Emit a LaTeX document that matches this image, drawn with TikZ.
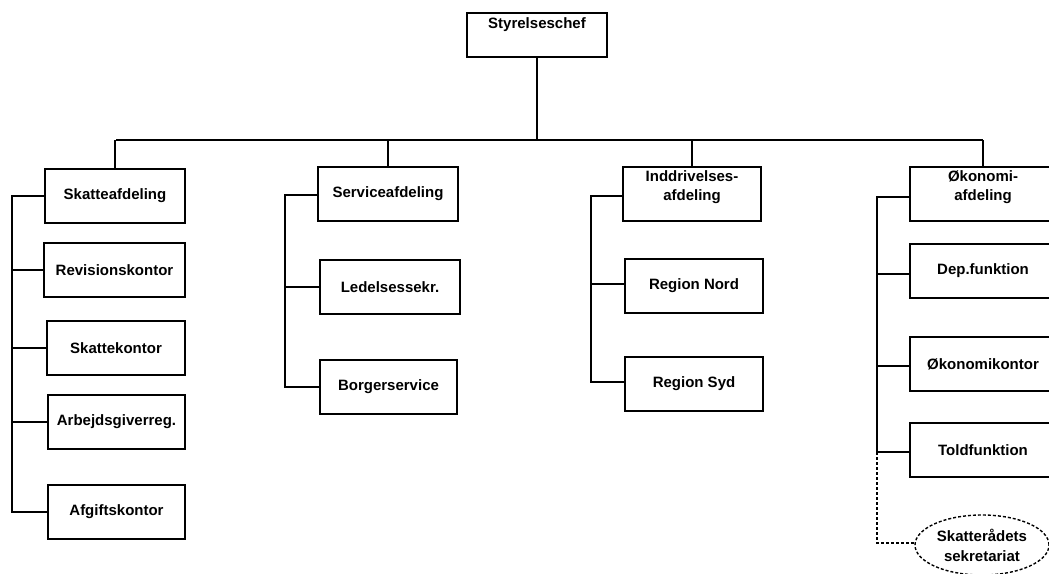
\documentclass[tikz,border=0pt]{standalone}
\usepackage{fontspec}
\setmainfont{Liberation Sans}
\usetikzlibrary{shapes.geometric}
\begin{document}
\begin{tikzpicture}[x=1pt,y=-1pt,
  box/.style={draw,line width=1.8pt,rectangle,minimum width=#1,minimum height=54pt,inner sep=0pt,
    font=\fontsize{15}{18.5}\selectfont\bfseries,align=center},
  box/.default=140pt,
  txt/.style={font=\fontsize{15}{18.5}\selectfont\bfseries,align=center,inner sep=0pt},
  conn/.style={line width=2pt},
  dconn/.style={line width=1.4pt,dash pattern=on 3pt off 2pt}]
\useasboundingbox (0,0) rectangle (1049,573);
% top
\node[box=140pt,minimum height=44pt] (top) at (537,35) {};
\node[txt] (toptxt) at (537,25) {Styrelseschef};
\coordinate (busL) at (116,140);
\coordinate (busR) at (983,140);
% column 1
\node[box=140pt] (skat) at (115,196) {Skatteafdeling};
\node[box=141pt] (rev) at (114.5,270) {Revisionskontor};
\node[box=138pt] (skk) at (116,348) {Skattekontor};
\node[box=137pt] (arb) at (116.5,422) {Arbejdsgiverreg.};
\node[box=137pt] (afg) at (116.5,512) {Afgiftskontor};
\coordinate (s1) at (12,0);
% column 2
\node[box=140pt] (serv) at (388,194) {Serviceafdeling};
\node[box=140pt] (led) at (390,287) {Ledelsessekr.};
\node[box=137pt] (borg) at (388.5,387) {Borgerservice};
\coordinate (s2) at (285,0);
% column 3
\node[box=138pt] (indd) at (692,194) {};
\node[txt] (inddtxt) at (692,187) {Inddrivelses-\\afdeling};
\node[box=138pt] (nord) at (694,286) {Region Nord};
\node[box=138pt] (syd) at (694,384) {Region Syd};
\coordinate (s3) at (591,0);
% column 4
\node[box=146pt] (oko) at (983,194) {};
\node[txt] (okotxt) at (983,187) {Økonomi-\\afdeling};
\node[box=146pt] (dep) at (983,271) {Dep.funktion};
\node[box=146pt] (okk) at (983,364) {Økonomikontor};
\node[box=146pt] (told) at (983,450) {Toldfunktion};
\node[draw,ellipse,dash pattern=on 3pt off 2pt,line width=1.4pt,minimum width=134pt,minimum height=60pt,
  inner sep=0pt,font=\fontsize{15}{20}\selectfont\bfseries,align=center] (ell) at (982,545) {Skatterådets\\sekretariat};
\coordinate (s4) at (877,0);
% bus
\draw[conn] (busL) -- (busR);
\draw[conn] (top.south) -- (top.south |- busL);
\draw[conn] (skat.north) -- (skat.north |- busL);
\draw[conn] (serv.north) -- (serv.north |- busL);
\draw[conn] (indd.north) -- (indd.north |- busL);
\draw[conn] (oko.north) -- (oko.north |- busL);
% col 1 spine
\draw[conn] (skat.west) -- (skat.west -| s1) -- (afg.west -| s1) -- (afg.west);
\draw[conn] (rev.west) -- (rev.west -| s1);
\draw[conn] (skk.west) -- (skk.west -| s1);
\draw[conn] (arb.west) -- (arb.west -| s1);
% col 2
\draw[conn] ([yshift=-1pt]serv.west) -- ([yshift=-1pt]serv.west -| s2) -- (borg.west -| s2) -- (borg.west);
\draw[conn] (led.west) -- (led.west -| s2);
% col 3
\draw[conn] ([yshift=-2pt]indd.west) -- ([yshift=-2pt]indd.west -| s3) -- ([yshift=2pt]syd.west -| s3) -- ([yshift=2pt]syd.west);
\draw[conn] ([yshift=2pt]nord.west) -- ([yshift=2pt]nord.west -| s3);
% col 4
\draw[conn] ([yshift=-3pt]oko.west) -- ([yshift=-3pt]oko.west -| s4) -- ([yshift=-2pt]told.west -| s4) -- ([yshift=-2pt]told.west);
\draw[conn] ([yshift=-3pt]dep.west) -- ([yshift=-3pt]dep.west -| s4);
\draw[conn] ([yshift=-2pt]okk.west) -- ([yshift=-2pt]okk.west -| s4);
\draw[dconn] ([yshift=-2pt]told.west -| s4) |- ([yshift=2pt]ell.west);
\end{tikzpicture}
\end{document}
